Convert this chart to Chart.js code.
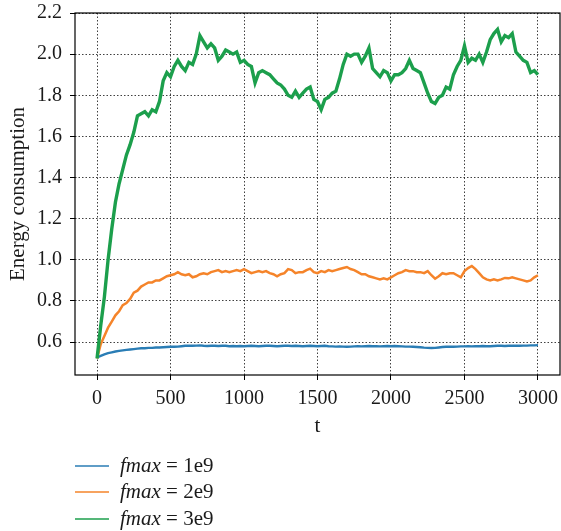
<!DOCTYPE html>
<html>
<head>
<meta charset="utf-8">
<script src="https://cdn.jsdelivr.net/npm/chart.js@4/dist/chart.umd.min.js"></script>
<style>
  html, body { margin: 0; padding: 0; background: #ffffff; }
  canvas { display: block; }
</style>
</head>
<body>
<canvas id="chart" width="561" height="531"></canvas>
<script>
// Time steps (t) shared by all three runs
const steps = [
  0, 25, 50, 75, 100, 125, 150, 175, 200, 225, 250, 275, 300, 325, 350, 375, 400, 425, 450, 475,
  500, 525, 550, 575, 600, 625, 650, 675, 700, 725, 750, 775, 800, 825, 850, 875, 900, 925, 950, 975,
  1000, 1025, 1050, 1075, 1100, 1125, 1150, 1175, 1200, 1225, 1250, 1275, 1300, 1325, 1350, 1375, 1400, 1425, 1450, 1475,
  1500, 1525, 1550, 1575, 1600, 1625, 1650, 1675, 1700, 1725, 1750, 1775, 1800, 1825, 1850, 1875, 1900, 1925, 1950, 1975,
  2000, 2025, 2050, 2075, 2100, 2125, 2150, 2175, 2200, 2225, 2250, 2275, 2300, 2325, 2350, 2375, 2400, 2425, 2450, 2475,
  2500, 2525, 2550, 2575, 2600, 2625, 2650, 2675, 2700, 2725, 2750, 2775, 2800, 2825, 2850, 2875, 2900, 2925, 2950, 2975,
  3000
];

// Energy consumption, fmax = 1e9
const energy1e9 = [
  0.525, 0.533, 0.540, 0.546, 0.550, 0.554, 0.557, 0.560, 0.562, 0.564, 0.566, 0.568, 0.570, 0.570, 0.572, 0.572, 0.574, 0.574, 0.575, 0.576,
  0.577, 0.577, 0.578, 0.580, 0.582, 0.583, 0.582, 0.583, 0.584, 0.582, 0.581, 0.582, 0.582, 0.581, 0.582, 0.582, 0.580, 0.581, 0.580, 0.581,
  0.580, 0.581, 0.582, 0.581, 0.580, 0.581, 0.582, 0.582, 0.581, 0.580, 0.581, 0.582, 0.582, 0.581, 0.582, 0.581, 0.580, 0.581, 0.582, 0.581,
  0.580, 0.581, 0.582, 0.580, 0.579, 0.578, 0.579, 0.578, 0.577, 0.578, 0.579, 0.580, 0.579, 0.580, 0.581, 0.580, 0.580, 0.579, 0.580, 0.581,
  0.580, 0.581, 0.580, 0.579, 0.578, 0.578, 0.577, 0.576, 0.575, 0.573, 0.572, 0.571, 0.572, 0.574, 0.576, 0.577, 0.578, 0.577, 0.578, 0.579,
  0.579, 0.580, 0.579, 0.580, 0.580, 0.581, 0.580, 0.580, 0.581, 0.582, 0.582, 0.581, 0.582, 0.582, 0.583, 0.582, 0.583, 0.583, 0.584, 0.584,
  0.585
];

// Energy consumption, fmax = 2e9
const energy2e9 = [
  0.520, 0.590, 0.630, 0.670, 0.700, 0.730, 0.750, 0.780, 0.790, 0.810, 0.840, 0.850, 0.870, 0.880, 0.890, 0.890, 0.900, 0.900, 0.910, 0.920,
  0.925, 0.930, 0.940, 0.930, 0.925, 0.930, 0.915, 0.920, 0.930, 0.935, 0.930, 0.940, 0.945, 0.950, 0.940, 0.945, 0.940, 0.945, 0.950, 0.945,
  0.955, 0.945, 0.935, 0.940, 0.945, 0.940, 0.945, 0.935, 0.930, 0.920, 0.930, 0.935, 0.955, 0.950, 0.935, 0.940, 0.940, 0.950, 0.957, 0.940,
  0.935, 0.945, 0.940, 0.950, 0.945, 0.950, 0.955, 0.960, 0.965, 0.955, 0.950, 0.940, 0.930, 0.930, 0.920, 0.915, 0.910, 0.905, 0.910, 0.905,
  0.915, 0.925, 0.935, 0.940, 0.950, 0.945, 0.945, 0.940, 0.940, 0.935, 0.945, 0.925, 0.908, 0.920, 0.935, 0.930, 0.935, 0.935, 0.925, 0.915,
  0.945, 0.960, 0.970, 0.955, 0.935, 0.915, 0.905, 0.900, 0.905, 0.900, 0.905, 0.912, 0.910, 0.915, 0.910, 0.905, 0.900, 0.895, 0.900, 0.915,
  0.925
];

// Energy consumption, fmax = 3e9
const energy3e9 = [
  0.52, 0.68, 0.82, 1.00, 1.15, 1.28, 1.37, 1.44, 1.51, 1.56, 1.62, 1.70, 1.71, 1.72, 1.70, 1.73, 1.72, 1.77, 1.87, 1.91,
  1.89, 1.94, 1.97, 1.94, 1.92, 1.96, 1.95, 2.00, 2.09, 2.06, 2.03, 2.05, 2.03, 1.97, 1.99, 2.02, 2.01, 2.00, 2.01, 1.96,
  1.97, 1.95, 1.94, 1.86, 1.91, 1.92, 1.91, 1.90, 1.88, 1.86, 1.85, 1.83, 1.80, 1.79, 1.82, 1.79, 1.81, 1.83, 1.84, 1.78,
  1.77, 1.73, 1.78, 1.79, 1.81, 1.82, 1.88, 1.95, 2.00, 1.99, 2.00, 2.00, 1.96, 1.99, 2.03, 1.93, 1.91, 1.89, 1.92, 1.91,
  1.87, 1.90, 1.90, 1.91, 1.93, 1.97, 1.93, 1.92, 1.91, 1.86, 1.81, 1.77, 1.76, 1.79, 1.80, 1.84, 1.83, 1.90, 1.94, 1.97,
  2.04, 1.96, 1.98, 1.97, 2.00, 1.96, 2.01, 2.07, 2.10, 2.12, 2.06, 2.09, 2.08, 2.10, 2.01, 1.99, 1.97, 1.96, 1.91, 1.92,
  1.90
];

const seriesLabels = ['fmax = 1e9', 'fmax = 2e9', 'fmax = 3e9'];
const seriesColors = ['#2a7db5', '#f5842a', '#1c9f4c'];

const xTicks = [0, 500, 1000, 1500, 2000, 2500, 3000];
const yTicks = [0.6, 0.8, 1.0, 1.2, 1.4, 1.6, 1.8, 2.0, 2.2];

const FONT = "'Liberation Serif', 'DejaVu Serif', serif";

function toPoints(values) {
  return values.map((v, i) => ({ x: steps[i], y: v }));
}

// Box around the plotting area
const frame = {
  id: 'frame',
  afterDatasetsDraw(chart) {
    const { ctx, chartArea: a } = chart;
    ctx.save();
    ctx.strokeStyle = '#000';
    ctx.lineWidth = 1.2;
    ctx.strokeRect(a.left, a.top, a.right - a.left, a.bottom - a.top);
    ctx.restore();
  }
};

// Legend under the axes: short line, italic variable name, upright value
const bottomLegend = {
  id: 'bottomLegend',
  afterDraw(chart) {
    const { ctx } = chart;
    const rowY = [466, 492, 519];
    ctx.save();
    chart.data.datasets.forEach((ds, i) => {
      const y = rowY[i];
      ctx.strokeStyle = ds.borderColor;
      ctx.lineWidth = 1.6;
      ctx.beginPath();
      ctx.moveTo(75, y);
      ctx.lineTo(109, y);
      ctx.stroke();
      const parts = ds.label.split(' = ');
      ctx.fillStyle = '#1a1a1a';
      ctx.textBaseline = 'middle';
      ctx.font = "italic 21px " + FONT;
      ctx.fillText(parts[0], 120, y);
      const w = ctx.measureText(parts[0]).width;
      ctx.font = "21px " + FONT;
      ctx.fillText(' = ' + parts[1], 120 + w, y);
    });
    ctx.restore();
  }
};

const tickFont = { family: FONT, size: 20 };
const titleFont = { family: FONT, size: 21 };

// Keep edge labels from shrinking the plotting area
function noEdgePadding(s) {
  s.paddingLeft = 0;
  s.paddingRight = 0;
  s.paddingTop = 0;
  s.paddingBottom = 0;
}

new Chart(document.getElementById('chart'), {
  type: 'line',
  data: {
    datasets: [
      { label: seriesLabels[0], data: toPoints(energy1e9), borderColor: seriesColors[0], borderWidth: 2.4, order: 3 },
      { label: seriesLabels[1], data: toPoints(energy2e9), borderColor: seriesColors[1], borderWidth: 2.5, order: 2 },
      { label: seriesLabels[2], data: toPoints(energy3e9), borderColor: seriesColors[2], borderWidth: 3.4, order: 1 }
    ]
  },
  options: {
    responsive: false,
    animation: false,
    devicePixelRatio: 1,
    layout: { padding: { left: 0, right: 1, top: 13, bottom: 0 } },
    elements: { point: { radius: 0 }, line: { tension: 0 } },
    plugins: { legend: { display: false }, tooltip: { enabled: false } },
    scales: {
      x: {
        type: 'linear',
        min: -150,
        max: 3150,
        afterBuildTicks: (s) => { s.ticks = xTicks.map(v => ({ value: v })); },
        afterFit: (s) => { s.height = 156; noEdgePadding(s); },
        ticks: { font: tickFont, color: '#1a1a1a', padding: 7, maxRotation: 0, callback: (v) => String(v) },
        grid: { color: 'rgba(0,0,0,0.75)', lineWidth: 1, tickLength: 5, tickColor: '#000', tickBorderDash: [] },
        border: { display: false, dash: [1.5, 2] },
        title: { display: true, text: 't', font: titleFont, color: '#1a1a1a', padding: { top: 0, bottom: 92 } }
      },
      y: {
        min: 0.44,
        max: 2.2,
        afterBuildTicks: (s) => { s.ticks = yTicks.map(v => ({ value: v })); },
        afterFit: (s) => { s.width = 75; noEdgePadding(s); },
        ticks: { font: tickFont, color: '#1a1a1a', padding: 8, callback: (v) => Number(v).toFixed(1) },
        grid: { color: 'rgba(0,0,0,0.75)', lineWidth: 1, tickLength: 5, tickColor: '#000', tickBorderDash: [] },
        border: { display: false, dash: [1.5, 2] },
        title: { display: true, text: 'Energy consumption', font: titleFont, color: '#1a1a1a', padding: { top: 6, bottom: 0 } }
      }
    }
  },
  plugins: [frame, bottomLegend]
});
</script>
</body>
</html>
